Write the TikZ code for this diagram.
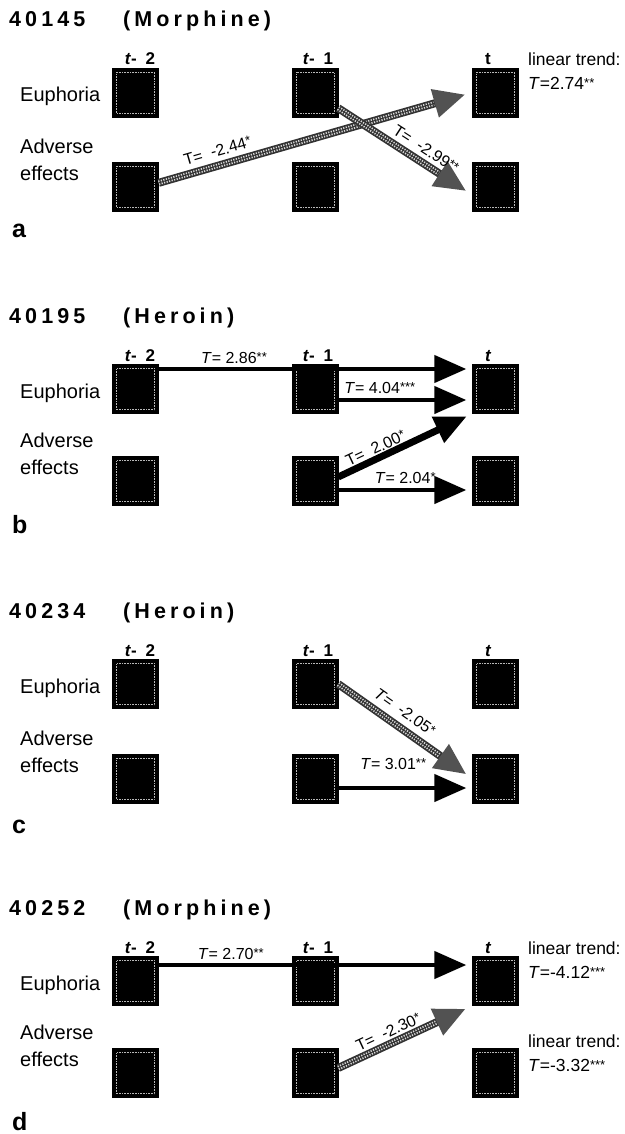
\documentclass[tikz,border=0pt]{standalone}
\usepackage{fontspec}
\setmainfont{Liberation Sans}
\newfontfamily\spacedfont{Liberation Sans}[LetterSpace=19]
\usepackage{tikz}
\usetikzlibrary{arrows.meta, calc}
\newcommand{\sig}[1]{\raisebox{2pt}{\fontsize{13}{13}\selectfont #1}}

\begin{document}
\begin{tikzpicture}[x=1pt, y=-1pt,
    cell/.style={rectangle, fill=black, draw=black, minimum width=46pt, minimum height=49pt, inner sep=0pt,
      path picture={\draw[gray!55, densely dotted, line width=0.6pt]
        ([shift={(4pt,4pt)}]path picture bounding box.south west) rectangle
        ([shift={(-4pt,-4pt)}]path picture bounding box.north east);}},
    idlab/.style={anchor=base west, inner sep=0pt, font=\spacedfont\bfseries\fontsize{21.5}{21.5}\selectfont},
    colhead/.style={anchor=base, inner sep=0pt, font=\bfseries\fontsize{17}{17}\selectfont},
    rowlab/.style={anchor=base west, align=left, inner sep=0pt, font=\fontsize{20}{27}\selectfont},
    tag/.style={anchor=base west, inner sep=0pt, font=\bfseries\fontsize{25}{25}\selectfont},
    trend/.style={anchor=base west, align=left, inner sep=0pt, font=\fontsize{17.5}{24}\selectfont},
    lab/.style={inner sep=1pt, font=\fontsize{16}{16}\selectfont},
    effect/.style={line width=4.5pt, black, -{Triangle[length=32pt, width=27pt]}, shorten >=6pt},
    hatched/.style={line width=8pt, draw=black!80, -{Triangle[length=32pt, width=27pt, color=black!68]}, shorten >=7pt,
      postaction={draw=white!85!black, line width=4.6pt, dash pattern=on 1.2pt off 1.4pt, -, shorten >=40pt},
      postaction={draw=black!80, line width=1pt, -, shorten >=40pt}}]
  \useasboundingbox (0,0) rectangle (624,1134);

  % four panels: same grid of cells
  \foreach \p/\ye/\ya/\yl/\num/\drug/\tshape in {a/92.5/186.5/237/40145/Morphine/\upshape,
      b/389/481/533/40195/Heroin/\itshape, c/684/778.5/833/40234/Heroin/\itshape,
      d/981/1073/1130/40252/Morphine/\itshape}{
    \node[idlab] (\p-num) at (9,\ye-66) {\num};
    \node[idlab] (\p-drug) at (123,\ye-66) {(\drug)};
    \node[colhead] (\p-h2) at (140,\ye-28) {\textit{t}-\hspace{9pt}2};
    \node[colhead] (\p-h1) at (318,\ye-28) {\textit{t}-\hspace{9pt}1};
    \node[colhead] (\p-h0) at (488,\ye-28) {\tshape t};
    \node[rowlab] (\p-euph) at (20,\ye+9.5) {Euphoria};
    \node[rowlab] (\p-adv) at (20,\ya-6.5) {Adverse\\effects};
    \node[cell] (\p-e2) at (135.5,\ye) {};
    \node[cell] (\p-e1) at (315,\ye) {};
    \node[cell] (\p-e0) at (495.5,\ye) {};
    \node[cell] (\p-a2) at (135.5,\ya) {};
    \node[cell] (\p-a1) at (315,\ya) {};
    \node[cell] (\p-a0) at (495.5,\ya) {};
    \node[tag] (\p-tag) at (12,\yl) {\p};
  }

  % a
  \draw[hatched] (a-a2.9) -- (a-e0.west) node[lab, pos=0.2, above=4pt, sloped] {T= \ -2.44\sig{*}};
  \draw[hatched] (a-e1.-34) -- (a-a0.200) node[lab, pos=0.6, above=3pt, sloped] {T= \ -2.99\sig{**}};
  \node[trend] (a-trend) at (528,89.5) {linear trend:\\\textit{T}=2.74\sig{**}};

  % b
  \draw[effect] ([yshift=20pt]b-e2.east) -- ([yshift=20pt]b-e0.west)
    node[lab, pos=0.24, above=2pt] {\textit{T}= 2.86\sig{**}};
  \draw[effect] ([yshift=-11pt]b-e1.east) -- ([yshift=-11pt]b-e0.west)
    node[lab, pos=0.31, above=3pt] {\textit{T}= 4.04\sig{***}};
  \draw[effect, line width=7pt] ([yshift=4pt]b-a1.east) -- (b-e0.south west)
    node[lab, pos=0.31, above=0pt, sloped] {T= \ 2.00\sig{*}};
  \draw[effect] ([yshift=-9pt]b-a1.east) -- ([yshift=-9pt]b-a0.west)
    node[lab, pos=0.5, above=3pt] {\textit{T}= 2.04\sig{*}};

  % c
  \draw[hatched] (c-e1.east) -- (c-a0.west) node[lab, pos=0.43, above=5pt, sloped] {\textit{T}= \ -2.05\sig{*}};
  \draw[effect] ([yshift=-9.5pt]c-a1.east) -- ([yshift=-9.5pt]c-a0.west)
    node[lab, pos=0.41, above=15pt] {\textit{T}= 3.01\sig{**}};

  % d
  \draw[effect] ([yshift=16pt]d-e2.east) -- ([yshift=16pt]d-e0.west)
    node[lab, pos=0.23, above=2pt] {\textit{T}= 2.70\sig{**}};
  \draw[hatched] ([yshift=5pt]d-a1.east) -- (d-e0.south west) node[lab, pos=0.41, above=1pt, sloped] {T= \ -2.30\sig{*}};
  \node[trend] (d-trend1) at (528,978) {linear trend:\\\textit{T}=-4.12\sig{***}};
  \node[trend] (d-trend2) at (528,1071) {linear trend:\\\textit{T}=-3.32\sig{***}};
\end{tikzpicture}
\end{document}
